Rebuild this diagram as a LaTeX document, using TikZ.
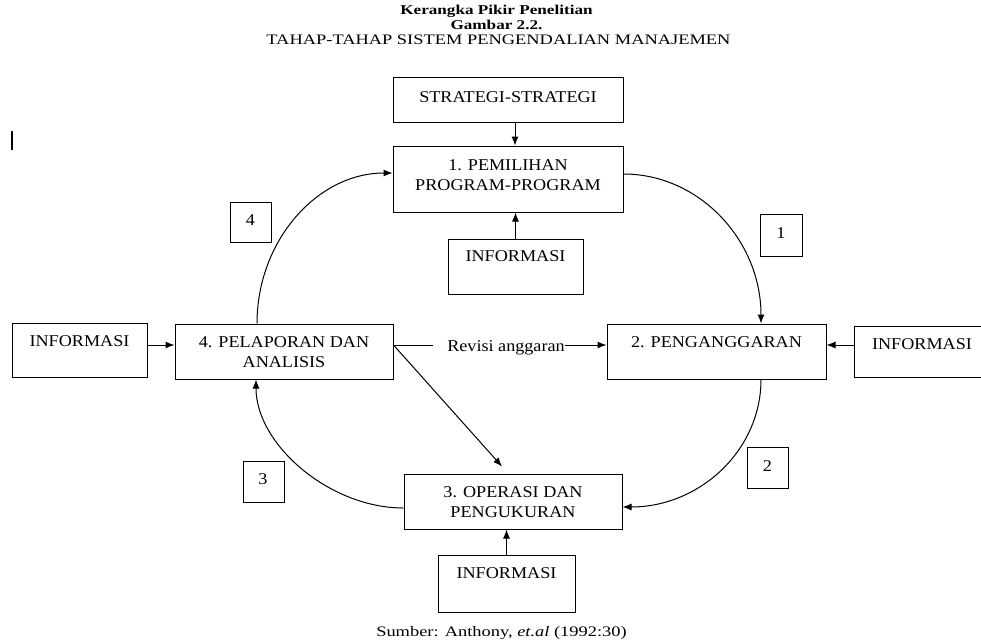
\documentclass[tikz,border=0pt]{standalone}
\usepackage{fontspec}
\setmainfont[FakeStretch=1.1]{Liberation Serif}
\newfontfamily\titlefont[FakeStretch=1.27]{Liberation Serif}
\usetikzlibrary{arrows.meta,calc}
\begin{document}
\begin{tikzpicture}[x=1pt,y=-1pt,
  font=\fontsize{16.5}{20.5}\selectfont,
  box/.style={draw, line width=1pt, inner sep=0pt},
  txt/.style={inner sep=0pt, align=center},
  ttl/.style={inner sep=0pt, align=center, font=\titlefont\fontsize{14.5}{16}\selectfont},
  arr/.style={line width=1pt, -{Latex[length=9pt,width=7pt]}},
  ln/.style={line width=1pt}]
\useasboundingbox (0,0) rectangle (981,641);
\clip (0,0) rectangle (981,641);

% titles
\node[ttl, font=\titlefont\fontsize{13.5}{16}\selectfont\bfseries] (t1) at (496.5,11) {Kerangka Pikir Penelitian};
\node[ttl, font=\titlefont\fontsize{13.5}{16}\selectfont\bfseries] (t2) at (496.5,25) {Gambar 2.2.};
\node[ttl] (t3) at (498.5,40) {TAHAP-TAHAP SISTEM PENGENDALIAN MANAJEMEN};
\node[ttl, anchor=base] (src) at (501.5,636) {Sumber: Anthony, \textit{et.al} (1992:30)};

% cursor mark
\draw[line width=1.3pt] (12,131) -- (12,150);

% boxes
\node[box, minimum width=230pt, minimum height=45pt] (strat) at (508,99.5) {};
\node[txt] at (508,97) {STRATEGI-STRATEGI};
\node[box, minimum width=230pt, minimum height=66pt] (p1) at (508,179) {};
\node[txt] at (508,175) {1. PEMILIHAN\\PROGRAM-PROGRAM};
\node[box, minimum width=135pt, minimum height=55pt] (infoTop) at (515.5,266.5) {};
\node[txt] at (515.5,256) {INFORMASI};
\node[box, minimum width=135pt, minimum height=54pt] (infoL) at (79.5,350) {};
\node[txt] at (79.5,341) {INFORMASI};
\node[box, minimum width=218pt, minimum height=55pt] (p4) at (284,351.5) {};
\node[txt] at (284,352) {4. PELAPORAN DAN\\ANALISIS};
\node[box, minimum width=219pt, minimum height=55pt] (p2) at (716.5,351.5) {};
\node[txt] at (716.5,342) {2. PENGANGGARAN};
\node[box, minimum width=136pt, minimum height=51pt] (infoR) at (922,351.5) {};
\node[txt] at (922,344) {INFORMASI};
\node[box, minimum width=218pt, minimum height=55pt] (p3) at (513,501.5) {};
\node[txt] at (513,502) {3. OPERASI DAN\\PENGUKURAN};
\node[box, minimum width=137pt, minimum height=57pt] (infoB) at (506.5,583.5) {};
\node[txt] at (506.5,573) {INFORMASI};

% step number boxes
\node[box, minimum width=41pt, minimum height=40pt] (n4) at (250.5,222) {};
\node[txt] at (250.5,220) {4};
\node[box, minimum width=42pt, minimum height=42pt] (n1) at (781,235) {};
\node[txt] at (781,233.5) {1};
\node[box, minimum width=41pt, minimum height=41pt] (n3) at (263.5,481.5) {};
\node[txt] at (263,479.5) {3};
\node[box, minimum width=41pt, minimum height=41pt] (n2) at (767.5,467.5) {};
\node[txt] at (767.5,466) {2};

% straight connectors
\draw[arr] ([xshift=7pt]strat.south) -- ([xshift=7pt]p1.north);
\draw[arr] (infoTop.north) -- (infoTop.north |- p1.south);
\draw[arr] ([yshift=5pt]infoL.east) -- ([yshift=5pt]infoL.east -| p4.west);
\draw[arr] ([yshift=6.5pt]infoR.west) -- ([yshift=6.5pt]infoR.west -| p2.east);
\draw[arr] (infoB.north) -- (infoB.north |- p3.south);

% revisi anggaran
\node[txt] (rev) at (506,348) {Revisi anggaran};
\coordinate (rvA) at ([yshift=6.5pt]p4.east);
\coordinate (rvB) at ([xshift=-14pt]rev.west);
\draw[ln] (rvA) -- (rvA -| rvB);
\draw[arr] (rvA -| rev.east) -- (rvA -| p2.west);

% diagonal
\draw[arr] (rvA) -- ([xshift=-11pt,yshift=7pt]p3.north);

% cycle arcs
\draw[arr] ([yshift=5pt]p1.east) .. controls +(76,0) and +(0,-83) .. ([xshift=44.5pt]p2.north);
\draw[arr] ([xshift=44.5pt]p2.south) .. controls +(0,71) and +(77,0) .. ([yshift=-5.5pt]p3.east);
\draw[arr] ([yshift=-6.5pt]p3.west) .. controls +(-74,0) and +(0,65) .. ([xshift=-28pt]p4.south);
\draw[arr] ([xshift=-27pt]p4.north) .. controls +(0,-83) and +(-75,0) .. ([yshift=6pt]p1.west);
\end{tikzpicture}
\end{document}
